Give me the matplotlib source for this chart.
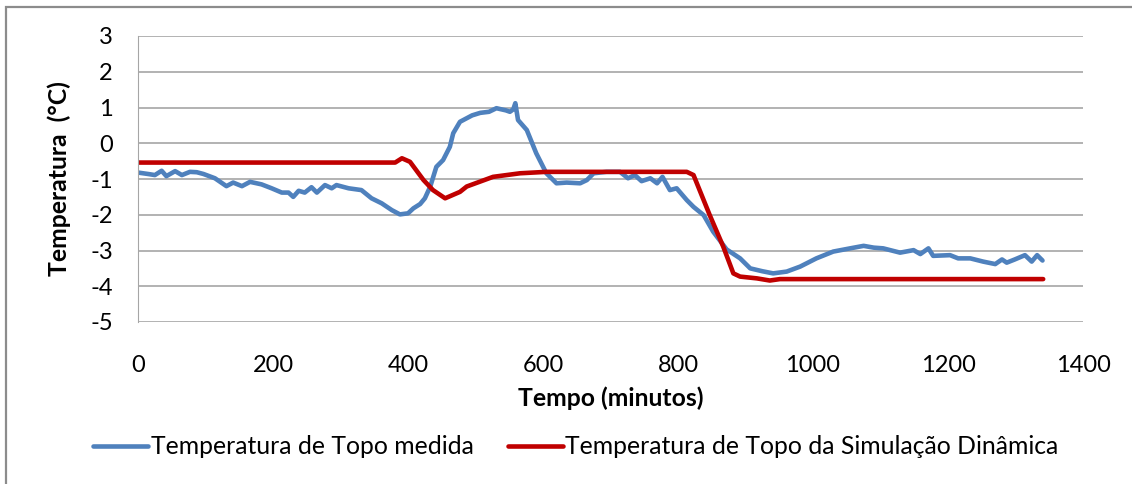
import matplotlib
matplotlib.use("Agg")
import matplotlib.pyplot as plt
from matplotlib.patches import Rectangle

# Measured top temperature (minutes, °C)
medida_t = [0, 15, 25, 35, 42, 55, 65, 77, 87, 97, 114, 131, 141, 154, 166, 183, 198, 213,
            223, 230, 238, 247, 257, 265, 277, 287, 294, 312, 331, 346, 361, 376, 388, 400,
            408, 418, 425, 433, 442, 452, 462, 467, 477, 482, 495, 507, 520, 531, 545, 551,
            556, 559, 563, 576, 590, 605, 620, 635, 655, 665, 675, 694, 714, 726, 736, 746,
            759, 769, 777, 788, 798, 813, 823, 838, 852, 872, 892, 907, 925, 941, 961, 981,
            1005, 1030, 1055, 1075, 1090, 1104, 1129, 1149, 1159, 1171, 1178, 1203, 1215,
            1233, 1252, 1270, 1280, 1287, 1299, 1314, 1324, 1332, 1340]
medida_v = [-0.82, -0.86, -0.89, -0.77, -0.92, -0.78, -0.89, -0.80, -0.81, -0.86, -0.98,
            -1.20, -1.10, -1.20, -1.08, -1.15, -1.26, -1.38, -1.38, -1.50, -1.33, -1.38,
            -1.23, -1.38, -1.17, -1.26, -1.17, -1.26, -1.31, -1.54, -1.68, -1.87, -1.99,
            -1.96, -1.82, -1.70, -1.54, -1.21, -0.66, -0.47, -0.10, 0.28, 0.60, 0.65, 0.78,
            0.85, 0.88, 0.98, 0.92, 0.88, 0.95, 1.12, 0.65, 0.37, -0.28, -0.84, -1.12,
            -1.10, -1.12, -1.03, -0.84, -0.80, -0.80, -0.98, -0.89, -1.06, -0.98, -1.12,
            -0.94, -1.31, -1.26, -1.59, -1.78, -2.01, -2.47, -2.97, -3.22, -3.50, -3.58,
            -3.64, -3.59, -3.45, -3.22, -3.03, -2.94, -2.87, -2.92, -2.94, -3.06, -2.99,
            -3.10, -2.94, -3.15, -3.13, -3.22, -3.22, -3.31, -3.38, -3.25, -3.34, -3.25,
            -3.13, -3.31, -3.13, -3.28]

# Dynamic simulation top temperature (minutes, °C)
simul_t = [0, 381, 391, 403, 423, 437, 455, 477, 487, 526, 566, 605, 813, 823, 847, 867,
           882, 892, 917, 936, 951, 1341]
simul_v = [-0.54, -0.54, -0.42, -0.52, -1.03, -1.31, -1.54, -1.36, -1.21, -0.94, -0.84,
           -0.80, -0.80, -0.89, -2.01, -2.89, -3.64, -3.73, -3.78, -3.84, -3.80, -3.80]

x_ticks = [0, 200, 400, 600, 800, 1000, 1200, 1400]
y_ticks = [3, 2, 1, 0, -1, -2, -3, -4, -5]

W, H = 1132, 484
plt.rcParams["font.family"] = ["Lato", "DejaVu Sans"]
plt.rcParams["axes.unicode_minus"] = False
fig = plt.figure(figsize=(W / 100, H / 100), dpi=100)

ax = fig.add_axes([138 / W, 1 - 322 / H, (1083 - 138) / W, (322 - 36) / H])

ax.plot(medida_t, medida_v, color="#4f81bd", lw=3.3, solid_joinstyle="round",
        solid_capstyle="round", label="Temperatura de Topo medida")
ax.plot(simul_t, simul_v, color="#c00000", lw=3.3, solid_joinstyle="round",
        solid_capstyle="round", label="Temperatura de Topo da Simulação Dinâmica")

ax.set_xlim(0, 1400)
ax.set_ylim(-5, 3)
ax.set_xticks(x_ticks)
ax.set_yticks(y_ticks)
ax.yaxis.grid(True, color="#a6a6a6", lw=1.2)
ax.set_axisbelow(True)
for s in ["top", "right", "bottom"]:
    ax.spines[s].set_visible(False)
ax.spines["left"].set_color("#a6a6a6")
ax.tick_params(length=0, labelsize=17, colors="#000000")
ax.tick_params(axis="x", pad=24)
ax.tick_params(axis="y", pad=18)

ax.set_xlabel("Tempo (minutos)", fontsize=17.8, fontweight="bold", labelpad=7)
ax.set_ylabel("Temperatura  (°C)", fontsize=17.8, fontweight="bold", labelpad=14)

fig.legend(loc="center", bbox_to_anchor=(576 / W, 1 - 447 / H), ncol=2, frameon=False,
           fontsize=17.8, handlelength=2.2, handletextpad=0.12, columnspacing=1.4)

# outer chart frame
fig.patches.append(Rectangle((6 / W, -0.05), 1.2, 1 - 7 / H + 0.05, transform=fig.transFigure,
                             fill=False, edgecolor="#8c8c8c", lw=1.6))

fig.savefig("out.png", dpi=100)
